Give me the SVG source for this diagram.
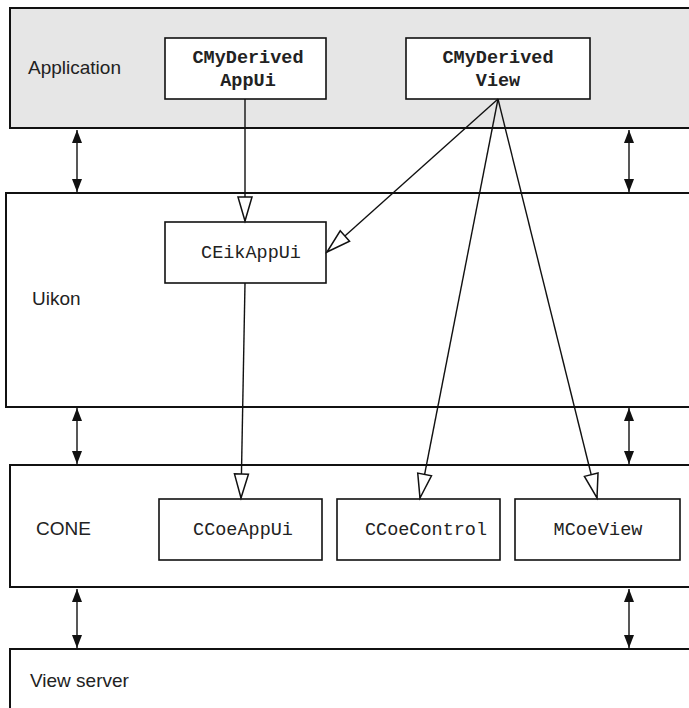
<svg xmlns="http://www.w3.org/2000/svg" width="689" height="708" viewBox="0 0 689 708">
<style>
.band{stroke:#111;stroke-width:2;}
.box{fill:#fff;stroke:#111;stroke-width:1.6;}
.lbl{font-family:"Liberation Sans",Arial,sans-serif;font-size:19px;fill:#222;}
.cls{font-family:"Liberation Mono","Courier New",monospace;font-size:18.5px;fill:#222;text-anchor:middle;}
.b{font-weight:bold;}
.con{stroke:#111;stroke-width:1.4;fill:none;}
</style>
<defs>
<marker id="hollow" markerUnits="userSpaceOnUse" markerWidth="30" markerHeight="20" viewBox="0 0 30 20" refX="27" refY="10" orient="auto">
<path d="M27,10 L3,3 L3,17 Z" fill="#fff" stroke="#111" stroke-width="1.5"/>
</marker>
<marker id="solid" markerUnits="userSpaceOnUse" markerWidth="14" markerHeight="12" viewBox="0 0 14 12" refX="13" refY="6" orient="auto-start-reverse">
<path d="M13,6 L0,1 L0,11 Z" fill="#111"/>
</marker>
</defs>
<g id="layer-application">
<rect class="band" x="10" y="8" width="690" height="120" fill="#e6e6e6"/>
<text class="lbl" x="28" y="74">Application</text>
</g>
<g id="layer-uikon">
<rect class="band" x="6" y="193" width="695" height="214" fill="#fff"/>
<text class="lbl" x="32" y="305">Uikon</text>
</g>
<g id="layer-cone">
<rect class="band" x="10" y="465" width="690" height="122" fill="#fff"/>
<text class="lbl" x="36" y="535">CONE</text>
</g>
<g id="layer-viewserver">
<rect class="band" x="10" y="649" width="690" height="70" fill="#fff"/>
<text class="lbl" x="30" y="687">View server</text>
</g>
<g id="node-CMyDerivedAppUi">
<rect class="box" x="165" y="38" width="161" height="61"/>
<text class="cls b" x="248" y="63">CMyDerived</text>
<text class="cls b" x="248" y="86">AppUi</text>
</g>
<g id="node-CMyDerivedView">
<rect class="box" x="406" y="38" width="184" height="61"/>
<text class="cls b" x="498" y="63">CMyDerived</text>
<text class="cls b" x="498" y="86">View</text>
</g>
<g id="node-CEikAppUi">
<rect class="box" x="165" y="222" width="161" height="61"/>
<text class="cls" x="251" y="258">CEikAppUi</text>
</g>
<g id="node-CCoeAppUi">
<rect class="box" x="159" y="499" width="163" height="61"/>
<text class="cls" x="243" y="535">CCoeAppUi</text>
</g>
<g id="node-CCoeControl">
<rect class="box" x="337" y="499" width="163" height="61"/>
<text class="cls" x="426" y="535">CCoeControl</text>
</g>
<g id="node-MCoeView">
<rect class="box" x="515" y="499" width="165" height="61"/>
<text class="cls" x="598" y="535">MCoeView</text>
</g>
<g id="connectors">
<line class="con" x1="245" y1="99" x2="245" y2="221" marker-end="url(#hollow)"/>
<line class="con" x1="498" y1="99" x2="327" y2="252" marker-end="url(#hollow)"/>
<line class="con" x1="245" y1="283" x2="241" y2="498" marker-end="url(#hollow)"/>
<line class="con" x1="498" y1="99" x2="420" y2="498" marker-end="url(#hollow)"/>
<line class="con" x1="498" y1="99" x2="597" y2="498" marker-end="url(#hollow)"/>
<line class="con" x1="77" y1="130" x2="77" y2="192" marker-start="url(#solid)" marker-end="url(#solid)"/>
<line class="con" x1="629" y1="130" x2="629" y2="192" marker-start="url(#solid)" marker-end="url(#solid)"/>
<line class="con" x1="77" y1="408" x2="77" y2="464" marker-start="url(#solid)" marker-end="url(#solid)"/>
<line class="con" x1="629" y1="408" x2="629" y2="464" marker-start="url(#solid)" marker-end="url(#solid)"/>
<line class="con" x1="77" y1="589" x2="77" y2="648" marker-start="url(#solid)" marker-end="url(#solid)"/>
<line class="con" x1="629" y1="589" x2="629" y2="648" marker-start="url(#solid)" marker-end="url(#solid)"/>
</g>
</svg>
